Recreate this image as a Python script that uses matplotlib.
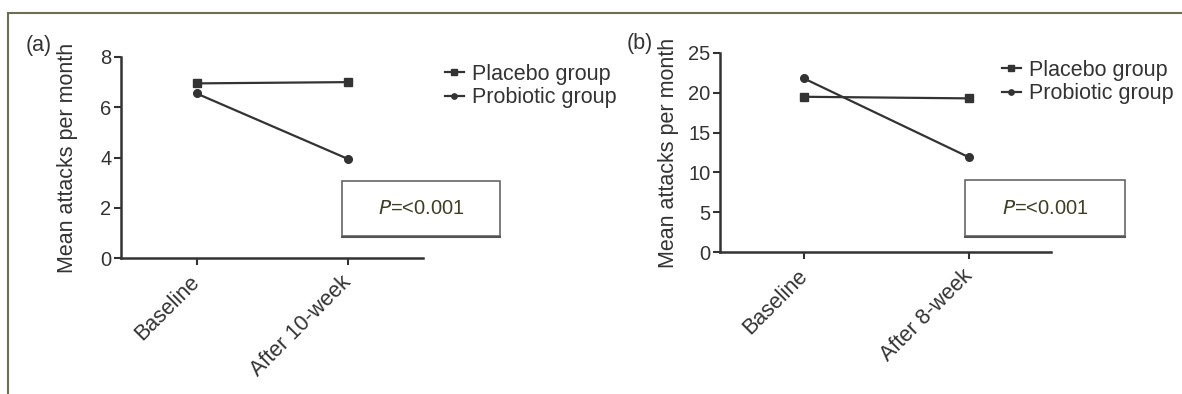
import matplotlib
matplotlib.use("Agg")
import matplotlib.pyplot as plt
from matplotlib.patches import Rectangle
from matplotlib.lines import Line2D

plt.rcParams['font.family'] = ['Liberation Sans', 'DejaVu Sans']

# Data
cats_a = ["Baseline", "After 10-week"]
placebo_a = [6.95, 7.0]
probiotic_a = [6.55, 3.95]

cats_b = ["Baseline", "After 8-week"]
placebo_b = [19.5, 19.3]
probiotic_b = [21.8, 11.9]

yticks_a = [0, 2, 4, 6, 8]
yticks_b = [0, 5, 10, 15, 20, 25]
series_names = ["Placebo group", "Probiotic group"]
p_text = "=<0.001"

W, H = 1182, 394
fig = plt.figure(figsize=(W / 100, H / 100), dpi=100)
fig.patch.set_facecolor("white")

# outer frame (top and left)
border_c = "#6e6e55"
fig.add_artist(Line2D([8 / W, 1.0], [1 - 13 / H, 1 - 13 / H], color=border_c, lw=1.5, transform=fig.transFigure))
fig.add_artist(Line2D([8 / W, 8 / W], [0, 1 - 13 / H], color=border_c, lw=1.5, transform=fig.transFigure))

line_c = "#333333"
fs = 15.5
tfs = 14.5


def panel(rect, cats, pl, pr, yticks, ylim, xlim, label, label_xy, leg_xy, box, ylab_x):
    ax = fig.add_axes(rect)
    x = list(range(len(cats)))
    ax.plot(x, pl, color=line_c, lw=1.6, marker="s", ms=6, label=series_names[0], clip_on=False)
    ax.plot(x, pr, color=line_c, lw=1.6, marker="o", ms=5.5, label=series_names[1], clip_on=False)
    ax.set_xlim(*xlim)
    ax.set_ylim(*ylim)
    ax.set_yticks(yticks)
    ax.set_xticks(x)
    ax.set_xticklabels(cats, rotation=45, ha="right", va="center", rotation_mode="anchor",
                       fontsize=fs, color="#333333")
    ax.tick_params(axis="y", labelsize=tfs, colors="#333333", length=5, width=1.5, pad=2)
    ax.tick_params(axis="x", length=5, width=1.5, colors="#333333", pad=10)
    for s in ["top", "right"]:
        ax.spines[s].set_visible(False)
    for s in ["left", "bottom"]:
        ax.spines[s].set_linewidth(1.8)
        ax.spines[s].set_color("#333333")
    ax.set_ylabel("Mean attacks per month", fontsize=fs, color="#333333")
    ax.yaxis.set_label_coords(ylab_x, 0.5)
    fig.text(label_xy[0] / W, 1 - label_xy[1] / H, label, fontsize=fs, color="#333333", va="center", ha="left")
    ax.legend(loc="upper left", bbox_to_anchor=(leg_xy[0] / W, 1 - leg_xy[1] / H),
              bbox_transform=fig.transFigure, frameon=False, fontsize=fs,
              handlelength=0.9, handletextpad=0.35, labelspacing=0.12, borderpad=0,
              markerscale=0.7, labelcolor="#333333")
    # p-value box
    bx0, by0, bx1, by1 = box
    rect_p = Rectangle((bx0 / W, 1 - by1 / H), (bx1 - bx0) / W, (by1 - by0) / H,
                       transform=fig.transFigure, facecolor="white", edgecolor="#666666", lw=1.2)
    fig.add_artist(rect_p)
    fig.add_artist(Line2D([bx0 / W, bx1 / W], [1 - (by1 + 1) / H] * 2, color="#555555", lw=1.5,
                          transform=fig.transFigure))
    cx = (bx0 + bx1) / 2 / W
    cy = 1 - (by0 + by1) / 2 / H
    fig.text(cx, cy, r"$\mathit{P}$" + p_text, fontsize=14.5, color="#3f3f25", ha="center", va="center",
             math_fontfamily="dejavusans")
    return ax


panel([121 / W, 1 - 258 / H, (423 - 121) / W, (258 - 57) / H], cats_a, placebo_a, probiotic_a,
      yticks_a, (0, 8), (-0.5, 1.5), "(a)", (26, 45), (434, 53), (342, 181, 500, 236),
      (78 - 121) / 302)

panel([720 / W, 1 - 252 / H, (1051 - 720) / W, (252 - 53) / H], cats_b, placebo_b, probiotic_b,
      yticks_b, (0, 25), (-0.509, 1.497), "(b)", (627, 44), (991, 49), (965, 180, 1125, 236),
      (679 - 720) / 331)

fig.savefig("out.png", dpi=100, facecolor="white")
